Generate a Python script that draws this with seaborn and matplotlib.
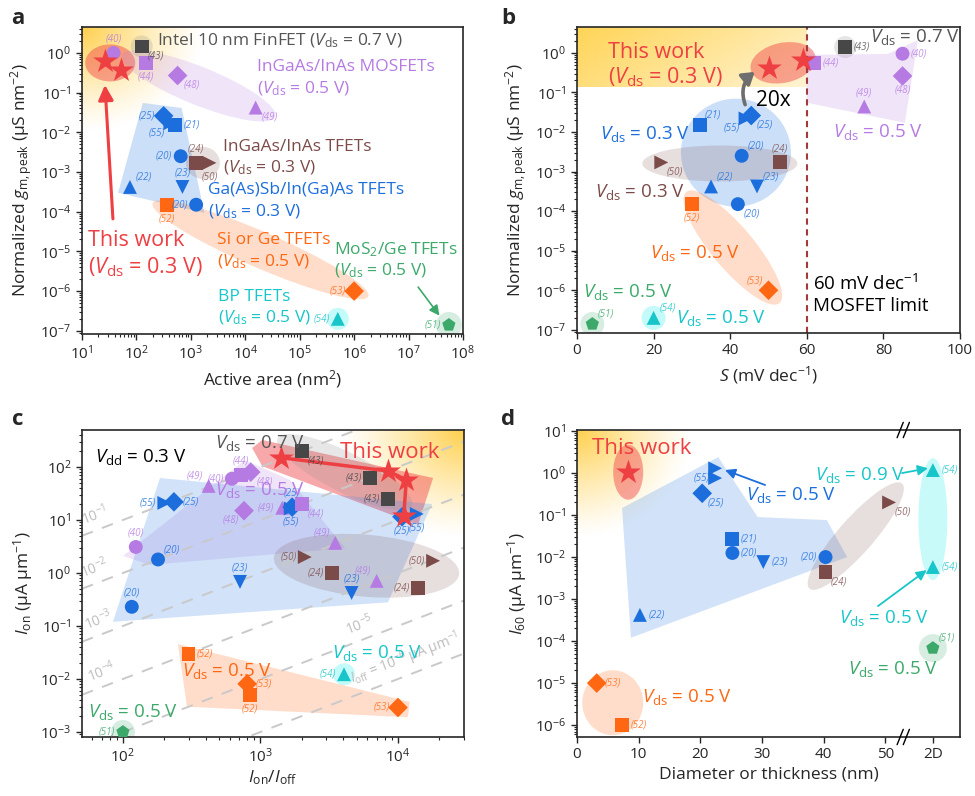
import matplotlib
matplotlib.use('Agg')

import numpy as np
import pandas as pd
import matplotlib.pyplot as plt
import seaborn as sns
from matplotlib.colors import to_rgb
from matplotlib.patches import Ellipse, Polygon, FancyArrowPatch
from matplotlib.transforms import ScaledTranslation, blended_transform_factory
from matplotlib.ticker import LogLocator, NullFormatter

# ---------------- data ----------------
TWO_D = 57.7  # slot on the x axis of panel d used for 2D materials

# a: normalized gm,peak vs active area
a_x = [26, 52, 38, 125, 150, 570, 15500, 316, 420, 520, 650, 1250, 2200, 76, 700, 1250, 360, 1e6, 5e5, 5.5e7]
a_y = [0.63, 0.37, 1.0, 1.45, 0.56, 0.27, 0.042, 0.026, 0.017, 0.015, 0.0025, 0.0017, 0.0017,
       4.2e-4, 4.2e-4, 1.5e-4, 1.45e-4, 1e-6, 2e-7, 1.4e-7]
a_grp = ['this', 'this', 'mos', 'intel', 'mos', 'mos', 'mos', 'gasb', 'gasb', 'gasb', 'gasb', 'tfet', 'tfet',
         'gasb', 'gasb', 'gasb', 'sige', 'sige', 'bp', 'mos2']
a_mk = ['*', '*', 'o', 's', 's', 'D', '^', 'D', '>', 's', 'o', 's', '>', '^', 'v', 'o', 's', 'D', '^', 'p']
a_ref = ['', '', '(40)', '(43)', '(44)', '(48)', '(49)', '(25)', '(55)', '(21)', '(20)', '(24)', '(50)',
         '(22)', '(23)', '(20)', '(52)', '(53)', '(54)', '(51)']

# b: normalized gm,peak vs S
b_x = [50, 59, 62, 70, 85, 85, 75, 32, 44, 45.5, 43, 22, 53, 35, 47, 42, 30, 50, 20, 4]
b_y = [0.42, 0.67, 0.56, 1.4, 0.95, 0.26, 0.044, 0.015, 0.022, 0.026, 0.0025, 0.0017, 0.0017,
       4.2e-4, 4.2e-4, 1.5e-4, 1.5e-4, 1e-6, 2e-7, 1.4e-7]
b_grp = ['this', 'this', 'mos', 'intel', 'mos', 'mos', 'mos', 'gasb', 'gasb', 'gasb', 'gasb', 'tfet', 'tfet',
         'gasb', 'gasb', 'gasb', 'sige', 'sige', 'bp', 'mos2']
b_mk = ['*', '*', 's', 's', 'o', 'D', '^', 's', '>', 'D', 'o', '>', 's', '^', 'v', 'o', 's', 'D', '^', 'p']
b_ref = ['', '', '(44)', '(43)', '(40)', '(48)', '(49)', '(21)', '(55)', '(25)', '(20)', '(50)', '(24)',
         '(22)', '(23)', '(20)', '(52)', '(53)', '(54)', '(51)']

# c: Ion vs Ion/Ioff
c_x = [1400, 8500, 11500, 11000,
       2000, 6300, 8500,
       200, 235, 620, 720, 850, 420, 760, 124, 180, 710, 116,
       1440, 1700, 1660, 2000,
       10700, 13700,
       3500, 2100, 3300, 4600, 7000, 14000, 18000,
       300, 800, 840, 1e4, 4050, 100]
c_y = [150, 84, 57, 12,
       200, 62, 25,
       21, 22, 60, 70, 80, 44, 15, 3.1, 1.8, 0.68, 0.23,
       17, 17.5, 16.5, 20,
       11.5, 13,
       3.7, 2.0, 1.0, 0.42, 0.71, 0.52, 1.7,
       0.0295, 0.0081, 0.005, 0.0029, 0.0123, 0.001]
c_grp = ['this'] * 4 + ['intel'] * 3 + \
        ['gasb', 'gasb', 'mos', 'mos', 'mos', 'mos', 'mos', 'mos', 'gasb', 'gasb', 'gasb'] + \
        ['mos', 'gasb', 'gasb', 'mos'] + ['gasb', 'gasb'] + \
        ['mos', 'tfet', 'tfet', 'gasb', 'mos', 'tfet', 'tfet'] + \
        ['sige', 'sige', 'sige', 'sige', 'bp', 'mos2']
c_mk = ['*'] * 4 + ['s'] * 3 + \
       ['>', 'D', 'o', 's', 'D', '^', 'D', 'o', 'o', 'v', 'o'] + \
       ['^', 'D', '>', 's'] + ['D', '>'] + \
       ['^', '>', 's', 'v', '^', 's', '>'] + \
       ['s', 'D', 's', 'D', '^', 'p']
c_ref = ['', '', '', '', '(43)', '(43)', '(43)',
         '(55)', '(25)', '(40)', '(44)', '(48)', '(49)', '(48)', '(40)', '(20)', '(23)', '(20)',
         '(49)', '(25)', '(55)', '(44)', '(25)', '(55)',
         '(49)', '(50)', '(24)', '(23)', '(49)', '(24)', '(50)',
         '(52)', '(53)', '(52)', '(53)', '(54)', '(51)']
c_ioff = [1e-1, 1e-2, 1e-3, 1e-4, 1e-5, 1e-6]

# d: I60 vs diameter or thickness
d_x = [8.3, 22.4, 22.4, 20.3, 25.2, 25.2, 30.2, 40.3, 40.3, 50.6, TWO_D, TWO_D, 10.2, TWO_D, 3.2, 7.3]
d_y = [1.05, 1.3, 0.76, 0.33, 0.027, 0.0125, 0.0076, 0.01, 0.0044, 0.2, 1.18, 0.0058, 4.2e-4, 6.8e-5, 1e-5, 1e-6]
d_grp = ['this', 'gasb', 'gasb', 'gasb', 'gasb', 'gasb', 'gasb', 'gasb', 'tfet', 'tfet', 'bp', 'bp',
         'gasb', 'mos2', 'sige', 'sige']
d_mk = ['*', '>', '>', 'D', 's', 'o', 'v', 'o', 's', '>', '^', '^', '^', 'p', 'D', 's']
d_ref = ['', '(55)', '', '(25)', '(21)', '(20)', '(23)', '(20)', '(24)', '(50)', '(54)', '(54)', '(22)',
         '(51)', '(53)', '(52)']

# label placement (layout only)
a_lab = ['', '', 'n', 'se', 's', 'se', 'se', 'w', 'sw', 'e', 'w', 'n', 's', 'ne', 'n', 'w', 's', 'w', 'w', 'w']
b_lab = ['', '', 'e', 'e', 'e', 's', 'n', 'ne', 'sw', 'se', 'ne', 'se', 'n', 'ne', 'ne', 'se', 's', 'nw', 'ne', 'ne']
c_lab = ['', '', '', '', 'se', 'w', 'w',
         'w', 'e', 'w', 'n', 'se', 'nw', 'sw', 'n', 'ne', 'n', 'n',
         'w', 'n', 's', 'se', 's', 's',
         'nw', 'w', 'w', 'n', 'nw', 'w', 'w',
         'e', 'e', 's', 'w', 'w', 'w']
d_lab = ['', 'sw', '', 'se', 'e', 'e', 'e', 'w', 'se', 'se', 'e', 'e', 'e', 'ne', 'e', 'e']

COL = {'this': '#EE3F43', 'intel': '#474747', 'mos': '#B57BE3', 'tfet': '#7B4B49',
       'gasb': '#1C6EDD', 'sige': '#FF6712', 'mos2': '#3CA96B', 'bp': '#18C6CA'}
GLOW = '#FFCB3A'

OFF = {'n': ((0, 6), 'center', 'bottom'), 's': ((0, -6), 'center', 'top'),
       'e': ((6, 0), 'left', 'center'), 'w': ((-6, 0), 'right', 'center'),
       'ne': ((4, 3), 'left', 'bottom'), 'nw': ((-4, 3), 'right', 'bottom'),
       'se': ((4, -3), 'left', 'top'), 'sw': ((-4, -3), 'right', 'top')}

TXT = 12.5   # annotation size
BIG = 15.5   # "This work"
LAB = 12.5   # axis labels

# ---------------- style ----------------
sns.set_style('ticks')
plt.rcParams['font.family'] = ['Open Sans', 'DejaVu Sans']
plt.rcParams['mathtext.fontset'] = 'custom'
plt.rcParams['mathtext.rm'] = 'Open Sans'
plt.rcParams['mathtext.it'] = 'Open Sans:italic'
plt.rcParams['mathtext.bf'] = 'Open Sans:bold'
plt.rcParams['xtick.labelsize'] = 11
plt.rcParams['ytick.labelsize'] = 11
plt.rcParams['axes.linewidth'] = 1.2

W, H = 975, 796
fig = plt.figure(figsize=(W / 100, H / 100), dpi=100)


def add_ax(l, t, r, b):
    return fig.add_axes([l / W, 1 - b / H, (r - l) / W, (b - t) / H])


ax_a = add_ax(82, 27, 463, 334)
ax_b = add_ax(577, 27, 960, 333)
ax_c = add_ax(82, 430, 464, 737)
ax_d = add_ax(577, 430, 960, 737)


def vds(v):
    return r'$V_{\mathrm{ds}}$ = ' + v + ' V'


def ftxt(px, py, s, color, size=TXT, **kw):
    fig.text(px / W, 1 - py / H, s, color=color, fontsize=size, ha='left', va='center', **kw)


def blob(ax, x, y, w, h, ang, color, alpha):
    tr = fig.dpi_scale_trans + ScaledTranslation(x, y, ax.transData)
    ax.add_patch(Ellipse((0, 0), w / 100, h / 100, angle=ang, transform=tr,
                         fc=color, ec='none', alpha=alpha, zorder=1))


def poly(ax, verts, color, alpha):
    ax.add_patch(Polygon(verts, closed=True, fc=color, ec='none', alpha=alpha, zorder=1))


def glow(ax, cx, cy, rx, ry, amax=0.9):
    n = 300
    X, Y = np.meshgrid(np.linspace(0, 1, n), np.linspace(0, 1, n))
    d = np.hypot((X - cx) / rx, (Y - cy) / ry)
    img = np.zeros((n, n, 4))
    img[..., :3] = to_rgb(GLOW)
    img[..., 3] = amax * np.clip(1 - d, 0, 1) ** 1.2
    ax.set_autoscale_on(False)
    ax.imshow(img, extent=(0, 1, 0, 1), transform=ax.transAxes, origin='lower',
              aspect='auto', zorder=0.5, interpolation='bilinear')


def draw_points(ax, x, y, grp, mk, ref, lab):
    df = pd.DataFrame(dict(x=x, y=y, grp=grp, mk=mk, ref=ref, lab=lab))
    rest = df[df.mk != '*']
    sns.scatterplot(data=rest, x='x', y='y', hue='grp', style='mk',
                    palette={g: COL[g] for g in rest.grp.unique()},
                    markers={m: m for m in rest.mk.unique()},
                    s=100, linewidth=0, legend=False, ax=ax, zorder=4)
    stars = df[df.mk == '*']
    if len(stars):
        sns.scatterplot(data=stars, x='x', y='y', color=COL['this'], marker='*', s=350,
                        linewidth=0, legend=False, ax=ax, zorder=6)
    for r in df.itertuples():
        if r.ref and r.lab:
            (dx, dy), ha, va = OFF[r.lab]
            ax.annotate(r.ref, (r.x, r.y), xytext=(dx, dy), textcoords='offset points',
                        ha=ha, va=va, fontsize=7, style='italic', color=COL[r.grp], alpha=0.8, zorder=7)


def log_axis(axis):
    axis.set_major_locator(LogLocator(base=10, numticks=20))
    axis.set_minor_locator(LogLocator(base=10, subs=np.arange(2, 10), numticks=20))
    axis.set_minor_formatter(NullFormatter())


def arrow(ax, tail, head, color, lw, rad=0.0, hl=0.6, hw=0.3):
    ax.add_patch(FancyArrowPatch(tail, head, arrowstyle=f'-|>,head_length={hl},head_width={hw}',
                                 connectionstyle=f'arc3,rad={rad}', color=color, lw=lw,
                                 mutation_scale=10, shrinkA=0, shrinkB=0, zorder=5))


# ---------------- panel a ----------------
ax = ax_a
ax.set_xscale('log')
ax.set_yscale('log')
ax.set_xlim(10, 1e8)
ax.set_ylim(8.3e-8, 4.5)
glow(ax, 0, 1, 0.32, 0.34)
blob(ax, 33, 0.56, 50, 37, 0, COL['this'], 0.45)
blob(ax, 125, 1.45, 22, 22, 0, '#9A9A9A', 0.25)
blob(ax, 1390, 0.148, 165, 38, -22, COL['mos'], 0.2)
poly(ax, [(131, 0.055), (676, 0.041), (1780, 9.3e-5), (46, 3.0e-4)], '#4A8FE8', 0.28)
blob(ax, 1660, 0.0017, 34, 32, 0, COL['tfet'], 0.18)
blob(ax, 19000, 1.1e-5, 235, 36, -23.4, COL['sige'], 0.22)
blob(ax, 5e5, 2e-7, 22, 22, 0, '#3FF0F0', 0.3)
blob(ax, 5.5e7, 1.4e-7, 26, 26, 0, COL['mos2'], 0.2)
draw_points(ax, a_x, a_y, a_grp, a_mk, a_ref, a_lab)
arrow(ax, (37, 6.6e-5), (26.4, 0.156), COL['this'], 2.2, hl=0.9, hw=0.45)
arrow(ax, (1.5e7, 1.26e-6), (3.7e7, 2.4e-7), COL['mos2'], 1.2, hl=0.6, hw=0.3)
ax.set_xlim(10, 1e8)
ax.set_ylim(8.3e-8, 4.5)
log_axis(ax.xaxis)
log_axis(ax.yaxis)
ax.set_xlabel('Active area (nm$^2$)', fontsize=LAB)
ax.set_ylabel(r'Normalized $g_{\mathrm{m,peak}}$ (μS nm$^{-2}$)', fontsize=LAB)

ftxt(157, 41, 'Intel 10 nm FinFET (' + vds('0.7') + ')', '#555555')
ftxt(257, 67, 'InGaAs/InAs MOSFETs', COL['mos'])
ftxt(257, 89, '(' + vds('0.5') + ')', COL['mos'])
ftxt(223, 147, 'InGaAs/InAs TFETs', COL['tfet'])
ftxt(223, 168, '(' + vds('0.3') + ')', COL['tfet'])
ftxt(208, 190, 'Ga(As)Sb/In(Ga)As TFETs', COL['gasb'])
ftxt(208, 212, '(' + vds('0.3') + ')', COL['gasb'])
ftxt(88, 241, 'This work', COL['this'], BIG)
ftxt(88, 267, '(' + vds('0.3') + ')', COL['this'], BIG)
ftxt(217, 240, 'Si or Ge TFETs', COL['sige'])
ftxt(217, 262, '(' + vds('0.5') + ')', COL['sige'])
ftxt(334, 250, r'MoS$_2$/Ge TFETs', COL['mos2'])
ftxt(334, 271, '(' + vds('0.5') + ')', COL['mos2'])
ftxt(218, 297, 'BP TFETs', COL['bp'])
ftxt(218, 318, '(' + vds('0.5') + ')', COL['bp'])

# ---------------- panel b ----------------
ax = ax_b
ax.set_yscale('log')
ax.set_xlim(0, 100)
ax.set_ylim(8.3e-8, 4.5)
ax.set_autoscale_on(False)
n = 200
X, Y = np.meshgrid(np.linspace(0, 0.6, n), np.linspace(0.804, 1, n))
band = np.zeros((n, n, 4))
band[..., :3] = to_rgb('#FFD24D')
band[..., 3] = np.clip(0.95 - 0.5 * X / 0.6 - 0.2 * (1 - Y) / 0.196, 0, 1)
ax.imshow(band, extent=(0, 0.6, 0.804, 1), transform=ax.transAxes, origin='lower',
          aspect='auto', zorder=0.5, interpolation='bilinear')
blob(ax, 53.8, 0.56, 66, 40, 12, COL['this'], 0.45)
blob(ax, 70, 1.4, 22, 22, 0, '#9A9A9A', 0.25)
poly(ax, [(60, 0.89), (81.2, 0.94), (89, 2.1), (85.6, 0.017), (60, 0.055)], COL['mos'], 0.2)
blob(ax, 41.5, 0.003, 110, 108, 0, '#4A8FE8', 0.28)
blob(ax, 37.3, 0.0016, 155, 36, 0, COL['tfet'], 0.18)
blob(ax, 40.7, 1.2e-5, 145, 42, -50, COL['sige'], 0.22)
blob(ax, 20, 2e-7, 24, 24, 0, '#3FF0F0', 0.3)
blob(ax, 4, 1.4e-7, 24, 24, 0, COL['mos2'], 0.2)
ax.axvline(60, color='#A33A3A', ls=(0, (3, 2.2)), lw=1.5, zorder=2)
draw_points(ax, b_x, b_y, b_grp, b_mk, b_ref, b_lab)
arrow(ax, (43.9, 0.049), (46.4, 0.33), '#6E6E6E', 2.6, rad=-0.35, hl=0.7, hw=0.45)
ax.set_xlim(0, 100)
ax.set_ylim(8.3e-8, 4.5)
log_axis(ax.yaxis)
ax.set_xticks([0, 20, 40, 60, 80, 100])
ax.set_xlabel(r'$S$ (mV dec$^{-1}$)', fontsize=LAB)
ax.set_ylabel(r'Normalized $g_{\mathrm{m,peak}}$ (μS nm$^{-2}$)', fontsize=LAB)

ftxt(608, 52, 'This work', COL['this'], BIG)
ftxt(608, 77, '(' + vds('0.3') + ')', COL['this'], BIG)
ftxt(756, 100, '20x', 'black', 15)
ftxt(870, 37, vds('0.7'), '#555555', 13.5)
ftxt(833, 132, vds('0.5'), COL['mos'], 13.5)
ftxt(600, 134, vds('0.3'), COL['gasb'], 13.5)
ftxt(595, 192, vds('0.3'), COL['tfet'], 13.5)
ftxt(650, 253, vds('0.5'), COL['sige'], 13.5)
ftxt(583, 292, vds('0.5'), COL['mos2'], 13.5)
ftxt(676, 318, vds('0.5'), COL['bp'], 13.5)
ftxt(813, 284, r'60 mV dec$^{-1}$', 'black', 13.5)
ftxt(813, 306, 'MOSFET limit', 'black', 13.5)

# ---------------- panel c ----------------
ax = ax_c
ax.set_xscale('log')
ax.set_yscale('log')
ax.set_xlim(50.4, 30200)
ax.set_ylim(8.05e-4, 499)
glow(ax, 1, 1, 0.32, 0.35)
xx = np.array([50.4, 30200])
for ioff in c_ioff:
    sns.lineplot(x=xx, y=ioff * xx, color='#C9C9C9', lw=1.4, ls=(0, (6, 5)), ax=ax, zorder=1.5)
for ioff, lx, txt in zip(c_ioff, [66, 66, 70, 74, 5500, 12000],
                         ['10$^{-1}$', '10$^{-2}$', '10$^{-3}$', '10$^{-4}$', '10$^{-5}$',
                          r'$I_{\mathrm{off}}$ = 10$^{-6}$ μA μm$^{-1}$']):
    ax.annotate(txt, (lx, ioff * lx), xytext=(0, 4), textcoords='offset points', rotation=21,
                rotation_mode='anchor', ha='center', va='bottom', color='#BDBDBD', fontsize=10, zorder=1.6)
poly(ax, [(870, 228), (1030, 324), (18000, 62), (14000, 8.1), (1030, 104)], COL['this'], 0.45)
blob(ax, 4100, 80, 150, 40, -26.6, '#8A8A8A', 0.2)
poly(ax, [(100, 2.1), (771, 135), (1640, 57), (4120, 2.95), (157, 1.42)], COL['mos'], 0.2)
poly(ax, [(186, 62), (17700, 20), (8450, 0.28), (84.6, 0.12)], '#4A8FE8', 0.25)
blob(ax, 5900, 1.37, 186, 62, -5, COL['tfet'], 0.18)
poly(ax, [(251, 0.0457), (12200, 0.0037), (11800, 0.0019), (292, 0.0030)], COL['sige'], 0.22)
blob(ax, 4050, 0.0123, 22, 22, 0, '#3FF0F0', 0.3)
blob(ax, 100, 0.001, 24, 24, 0, COL['mos2'], 0.2)
sns.lineplot(x=c_x[:4], y=c_y[:4], sort=False, estimator=None, color=COL['this'], lw=2.5, ax=ax, zorder=5)
draw_points(ax, c_x, c_y, c_grp, c_mk, c_ref, c_lab)
ax.set_xlim(50.4, 30200)
ax.set_ylim(8.05e-4, 499)
log_axis(ax.xaxis)
log_axis(ax.yaxis)
ax.set_xlabel(r'$I_{\mathrm{on}}/I_{\mathrm{off}}$', fontsize=LAB, labelpad=2)
ax.set_ylabel(r'$I_{\mathrm{on}}$ (μA μm$^{-1}$)', fontsize=LAB)

ftxt(95, 457, r'$V_{\mathrm{dd}}$ = 0.3 V', 'black', 13.5)
ftxt(215, 443, vds('0.7'), '#555555', 13.5)
ftxt(215, 490, vds('0.5'), COL['mos'], 13.5)
ftxt(340, 453, 'This work', COL['this'], BIG + 0.5)
ftxt(182, 671, vds('0.5'), COL['sige'], 13.5)
ftxt(332, 653, vds('0.5'), COL['bp'], 13.5)
ftxt(88, 712, vds('0.5'), COL['mos2'], 13.5)

# ---------------- panel d ----------------
ax = ax_d
ax.set_yscale('log')
ax.set_xlim(0, 62.1)
ax.set_ylim(5.2e-7, 10.6)
glow(ax, 0, 1, 0.3, 0.35)
blob(ax, 8.3, 1.05, 30, 55, 0, COL['this'], 0.45)
poly(ax, [(7.3, 0.147), (22.9, 2.4), (29.3, 0.0896), (40.5, 0.076), (43.8, 0.01), (8.75, 1.2e-4)],
     '#4A8FE8', 0.25)
blob(ax, 45.2, 0.0316, 140, 35, 48.6, COL['tfet'], 0.18)
blob(ax, TWO_D, 0.08, 29, 122, 0, '#3FF0F0', 0.28)
blob(ax, TWO_D, 6.8e-5, 28, 28, 0, COL['mos2'], 0.2)
blob(ax, 5.8, 3.4e-6, 61, 65, 0, COL['sige'], 0.22)
draw_points(ax, d_x, d_y, d_grp, d_mk, d_ref, d_lab)
arrow(ax, (30.5, 0.52), (24.0, 1.18), COL['gasb'], 1.3)
arrow(ax, (52.7, 1.0), (56.9, 1.3), COL['bp'], 1.3)
arrow(ax, (48.8, 6.8e-4), (56.7, 0.0049), COL['bp'], 1.3)
ax.set_xlim(0, 62.1)
ax.set_ylim(5.2e-7, 10.6)
log_axis(ax.yaxis)
ax.set_xticks([0, 10, 20, 30, 40, 50, TWO_D])
ax.set_xticklabels(['0', '10', '20', '30', '40', '50', '2D'])
bt = blended_transform_factory(ax.transData, ax.transAxes)
for yy in (0, 1):
    for xb in (52.4, 53.4):
        ax.plot([xb - 0.5, xb + 0.5], [yy - 0.025, yy + 0.025], transform=bt, color='black',
                lw=1, clip_on=False, zorder=10)
ax.set_xlabel('Diameter or thickness (nm)', fontsize=LAB, labelpad=3)
ax.set_ylabel(r'$I_{60}$ (μA μm$^{-1}$)', fontsize=LAB)

ftxt(592, 448, 'This work', COL['this'], BIG + 0.5)
ftxt(746, 495, vds('0.5'), COL['gasb'], 13.5)
ftxt(815, 475, vds('0.9'), COL['bp'], 13.5)
ftxt(839, 618, vds('0.5'), COL['bp'], 13.5)
ftxt(848, 669, vds('0.5'), COL['mos2'], 13.5)
ftxt(642, 697, vds('0.5'), COL['sige'], 13.5)

for a in (ax_a, ax_b, ax_c, ax_d):
    a.tick_params(which='major', direction='out', length=4, width=1)
    a.tick_params(which='minor', direction='out', length=2.5, width=0.8)

for lbl, px, py in [('a', 18, 18), ('b', 508, 18), ('c', 18, 420), ('d', 508, 420)]:
    fig.text(px / W, 1 - py / H, lbl, fontsize=16, fontweight='bold', ha='center', va='center')

fig.savefig('out.png', dpi=100)
